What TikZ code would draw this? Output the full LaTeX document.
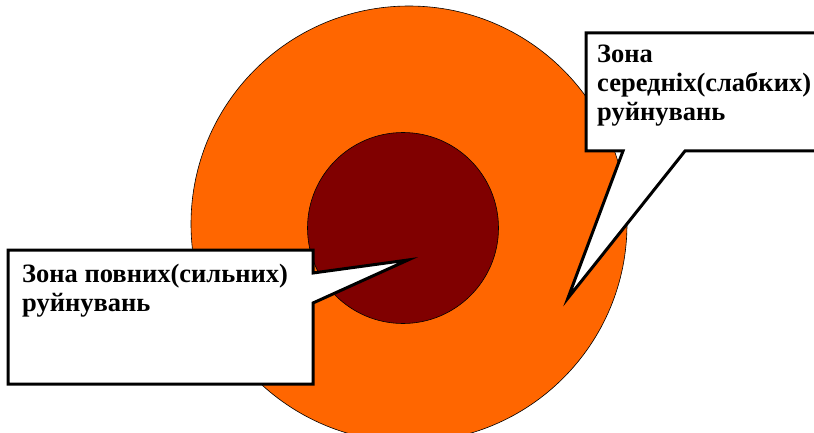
\documentclass[tikz,border=0pt]{standalone}
\usepackage{fontspec}
\setmainfont{Liberation Serif}
\usepackage{tikz}
\usetikzlibrary{positioning}
\definecolor{zoneorange}{HTML}{FF6600}
\definecolor{zonered}{HTML}{800000}
\newcommand{\zonefont}{\bfseries\fontsize{26.5}{29}\selectfont}

\begin{document}
\begin{tikzpicture}[
  x=1pt, y=-1pt,
  zone/.style={circle, draw=black, line width=0.6pt, inner sep=0pt},
  bubble/.style={draw=black, line width=3pt, fill=white, line join=miter},
  zonetext/.style={anchor=base west, align=left, font=\zonefont, inner sep=0pt}
]
\useasboundingbox (0,0) rectangle (814,433);

\node[zone, fill=zoneorange, minimum size=436pt] (outer) at (409,224) {};
\node[zone, fill=zonered, minimum size=191pt] (inner) at (403,228) {};

% callout of the strong zone
\coordinate (strongtip) at (408,260);
\draw[bubble] (8,250) -- (313,250) -- (313,273) -- (strongtip) -- (313,303)
  -- (313,384) -- (8,384) -- cycle;
\node[zonetext] (strongtxt) at (22,311) {Зона повних(сильних)\\руйнувань};

% callout of the weak zone
\coordinate (weaktip) at (568,298);
\draw[bubble] (586,33) -- (822,33) -- (822,151) -- (685,151) -- (weaktip)
  -- (623,151) -- (586,151) -- cycle;
\node[zonetext] (weaktxt) at (597,121) {Зона\\середніх(слабких)\\руйнувань};
\end{tikzpicture}
\end{document}
